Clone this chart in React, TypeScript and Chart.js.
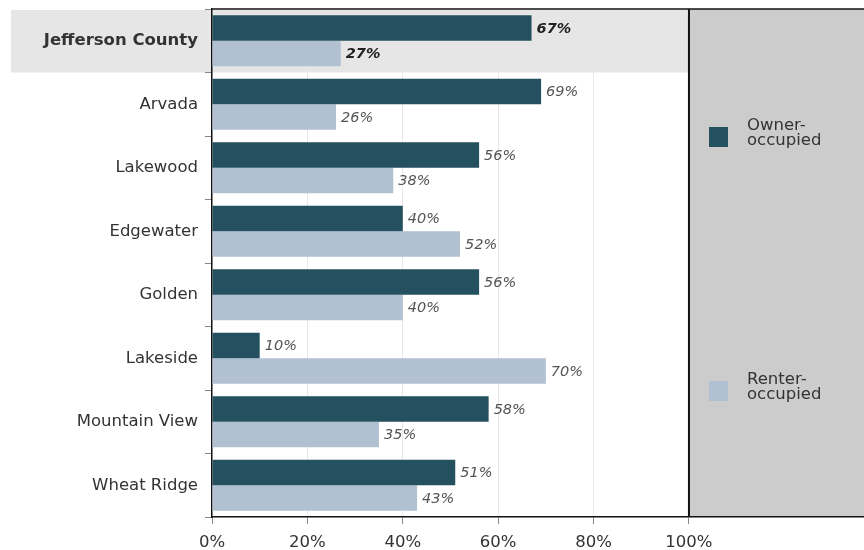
import React, { useEffect, useRef } from "react";
import { Chart, registerables } from "chart.js";

Chart.register(...registerables);

const categories = [
  "Jefferson County",
  "Arvada",
  "Lakewood",
  "Edgewater",
  "Golden",
  "Lakeside",
  "Mountain View",
  "Wheat Ridge",
];
const ownerValues = [67, 69, 56, 40, 56, 10, 58, 51];
const renterValues = [27, 26, 38, 52, 40, 70, 35, 43];
const seriesNames = ["Owner-occupied", "Renter-occupied"];
const tickValues = [0, 20, 40, 60, 80, 100];

const DARK = "#25505f";
const LIGHT = "#b1c1d2";
const FONT = "'DejaVu Sans', Verdana, sans-serif";
const X_MAX = 136.7;

const decorPlugin = {
  id: "decor",
  beforeDraw(chart: any) {
    const { ctx, chartArea, scales } = chart;
    const x = scales.x;
    const x100 = x.getPixelForValue(100);
    ctx.save();
    ctx.fillStyle = "#cccccc";
    ctx.fillRect(x100, chartArea.top, chartArea.right - x100, chartArea.bottom - chartArea.top);
    const rowH = (chartArea.bottom - chartArea.top) / categories.length;
    ctx.fillStyle = "#e6e6e6";
    ctx.fillRect(11, chartArea.top + 1, x100 - 11, rowH - 1);
    ctx.restore();
  },
  afterDatasetsDraw(chart: any) {
    const { ctx, chartArea, scales } = chart;
    const x = scales.x;
    const x100 = x.getPixelForValue(100);
    ctx.save();
    ctx.strokeStyle = "#111";
    ctx.lineWidth = 1.5;
    ctx.beginPath();
    ctx.moveTo(chartArea.left, chartArea.top);
    ctx.lineTo(chartArea.right, chartArea.top);
    ctx.stroke();
    ctx.lineWidth = 2;
    ctx.beginPath();
    ctx.moveTo(x100, chartArea.top);
    ctx.lineTo(x100, chartArea.bottom);
    ctx.stroke();
    ctx.textBaseline = "middle";
    ctx.textAlign = "left";
    chart.data.datasets.forEach((ds: any, di: number) => {
      const meta = chart.getDatasetMeta(di);
      meta.data.forEach((bar: any, i: number) => {
        const bold = i === 0;
        ctx.font = `${bold ? "bold " : ""}italic 14.5px ${FONT}`;
        ctx.fillStyle = bold ? "#222" : "#555";
        ctx.fillText(`${ds.data[i]}%`, bar.x + 5, bar.y + 1);
      });
    });
    const legendItems = [
      { color: DARK, lines: ["Owner-", "occupied"], y: 137 },
      { color: LIGHT, lines: ["Renter-", "occupied"], y: 391 },
    ];
    legendItems.forEach((it) => {
      ctx.fillStyle = it.color;
      ctx.fillRect(709, it.y - 10, 19, 20);
      ctx.fillStyle = "#333";
      ctx.font = `16.5px ${FONT}`;
      ctx.textBaseline = "alphabetic";
      ctx.fillText(it.lines[0], 747, it.y - 7);
      ctx.fillText(it.lines[1], 747, it.y + 8);
    });
    ctx.restore();
  },
};

export default function App() {
  const ref = useRef<HTMLCanvasElement>(null);
  useEffect(() => {
    if (!ref.current) return;
    const chart = new Chart(ref.current, {
      type: "bar",
      data: {
        labels: categories,
        datasets: [
          {
            label: seriesNames[0],
            data: ownerValues,
            backgroundColor: DARK,
            barPercentage: 1,
            categoryPercentage: 0.8,
          },
          {
            label: seriesNames[1],
            data: renterValues,
            backgroundColor: LIGHT,
            barPercentage: 1,
            categoryPercentage: 0.8,
          },
        ],
      },
      options: {
        indexAxis: "y",
        animation: false,
        responsive: false,
        maintainAspectRatio: false,
        layout: { padding: { top: 9, left: 0, right: 0, bottom: 0 } },
        plugins: { legend: { display: false }, tooltip: { enabled: false } },
        scales: {
          x: {
            min: 0,
            max: X_MAX,
            afterBuildTicks(axis: any) {
              axis.ticks = tickValues.map((v) => ({ value: v }));
            },
            afterFit(axis: any) {
              axis.height = 33;
              axis.paddingLeft = 0;
              axis.paddingRight = 0;
            },
            border: { color: "#111", width: 1.5 },
            grid: {
              color: (c: any) => (c.tick && c.tick.value > 0 && c.tick.value < 100 ? "#e8e8e8" : "rgba(0,0,0,0)"),
              tickColor: "#888",
              tickLength: 7,
              drawOnChartArea: true,
            },
            ticks: {
              color: "#333",
              font: { family: FONT, size: 16.5 },
              padding: 9,
              maxRotation: 0,
              callback: (v: any) => `${v}%`,
            },
          },
          y: {
            afterFit(axis: any) {
              axis.width = 212;
              axis.paddingTop = 0;
              axis.paddingBottom = 0;
            },
            border: { color: "#111", width: 1.5 },
            grid: {
              offset: true,
              drawOnChartArea: false,
              tickColor: "#888",
              tickLength: 7,
            },
            ticks: {
              color: "#333",
              padding: 7,
              font: (c: any) => ({ family: FONT, size: 16.5, weight: c.index === 0 ? "bold" : "normal" }),
            },
          },
        },
      },
      plugins: [decorPlugin],
    });
    return () => chart.destroy();
  }, []);
  return (
    <div style={{ position: "fixed", left: 0, top: 0, width: 864, height: 550, background: "#fff" }}>
      <canvas ref={ref} width={864} height={550} style={{ width: 864, height: 550 }} />
    </div>
  );
}
